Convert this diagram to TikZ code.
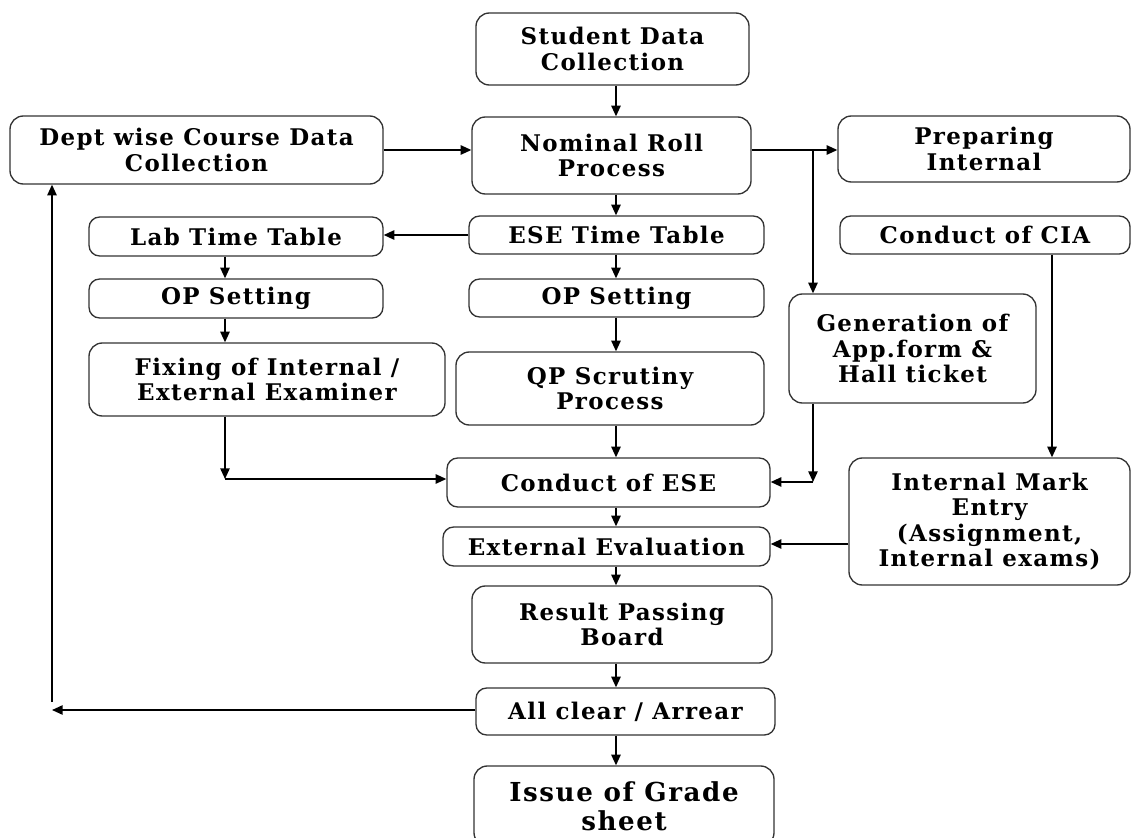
\documentclass[tikz,border=0pt]{standalone}
\usepackage{fontspec}
\setmainfont{DejaVu Serif}[LetterSpace=6]
\usetikzlibrary{arrows.meta}
\begin{document}
\begin{tikzpicture}[x=0.75pt,y=-0.75pt,
  box/.style={draw=black!80, line width=1pt, rounded corners=8pt, align=center, inner sep=0pt,
    font=\bfseries\fontsize{17.2}{19}\selectfont},
  big/.style={box, rounded corners=10pt},
  wh/.style n args={2}{minimum width=#1*0.75pt, minimum height=#2*0.75pt},
  arr/.style={-{Triangle[length=8pt,width=7pt]}, line width=1.2pt},
  ln/.style={line width=1.2pt}]
\useasboundingbox[fill=white] (0,0) rectangle (1132,838);
% nodes
\node[big, wh={273}{72}] (sdc) at (612.5,49) {Student Data\\Collection};
\node[big, wh={373}{68}] (dept) at (196.5,150) {Dept wise Course Data\\Collection};
\node[big, wh={279}{77}] (nom) at (611.5,155.5) {Nominal Roll\\Process};
\node[big, wh={292}{66}] (prep) at (984,149) {Preparing\\Internal};
\node[box, wh={294}{39}] (lab) at (236,236.5) {Lab Time Table};
\node[box, wh={295}{38}] (esett) at (616.5,235) {ESE Time Table};
\node[box, wh={290}{38}] (cia) at (985,235) {Conduct of CIA};
\node[box, wh={294}{39}] (op1) at (236,298.5) {OP Setting};
\node[box, wh={295}{38}] (op2) at (616.5,298) {OP Setting};
\node[big, wh={247}{109}] (gen) at (912.5,348.5) {Generation of\\App.form \&\\Hall ticket};
\node[big, wh={356}{73}] (fix) at (267,379.5) {Fixing of Internal /\\External Examiner};
\node[big, wh={308}{73}] (qp) at (610,388.5) {QP Scrutiny\\Process};
\node[box, wh={323}{49}] (cese) at (608.5,482.5) {Conduct of ESE};
\node[big, wh={281}{127}] (ime) at (989.5,521.5) {Internal Mark\\Entry\\(Assignment,\\Internal exams)};
\node[box, wh={327}{39}] (ext) at (606.5,546.5) {External Evaluation};
\node[big, wh={300}{77}] (res) at (622,624.5) {Result Passing\\Board};
\node[box, wh={299}{47}] (allc) at (625.5,711.5) {All clear / Arrear};
\node[big, wh={300}{80}, font=\bfseries\fontsize{19.6}{21.75}\selectfont] (iss) at (624,806) {Issue of Grade\\sheet};
% helper coordinates
\coordinate (spx) at (616,0);
\coordinate (gx) at (813,150);
\coordinate (lx) at (225,0);
\coordinate (c1) at (225,479);
\coordinate (c2) at (813,482);
\coordinate (cx) at (1052,0);
\coordinate (c3) at (0,544);
\coordinate (c4) at (52,710);
\coordinate (c5) at (52,702);
% connectors
\draw[arr] (sdc.south -| spx) -- (nom.north -| spx);
\draw[arr] (dept.east) -- (dept.east -| nom.west);
\draw[arr] (nom.east |- gx) -- (prep.west |- gx);
\draw[arr] (gx) -- (gen.north -| gx);
\draw[arr] (nom.south -| spx) -- (esett.north -| spx);
\draw[arr] (esett.west) -- (lab.east |- esett.west);
\draw[arr] (lab.south -| lx) -- (op1.north -| lx);
\draw[arr] (op1.south -| lx) -- (fix.north -| lx);
\draw[arr] (esett.south -| spx) -- (op2.north -| spx);
\draw[arr] (op2.south -| spx) -- (qp.north -| spx);
\draw[arr] (qp.south -| spx) -- (cese.north -| spx);
\draw[arr] (fix.south -| c1) -- (c1);
\draw[arr] (c1) -- (cese.west |- c1);
\draw[arr] (gen.south -| c2) -- (c2);
\draw[arr] (c2) -- (cese.east |- c2);
\draw[arr] (cia.south -| cx) -- (ime.north -| cx);
\draw[arr] (cese.south -| spx) -- (ext.north -| spx);
\draw[arr] (ime.west |- c3) -- (ext.east |- c3);
\draw[arr] (ext.south -| spx) -- (res.north -| spx);
\draw[arr] (res.south -| spx) -- (allc.north -| spx);
\draw[arr] (allc.south -| spx) -- (iss.north -| spx);
\draw[arr] (allc.west |- c4) -- (c4);
\draw[arr] (c5) -- (dept.south -| c5);
\end{tikzpicture}
\end{document}
